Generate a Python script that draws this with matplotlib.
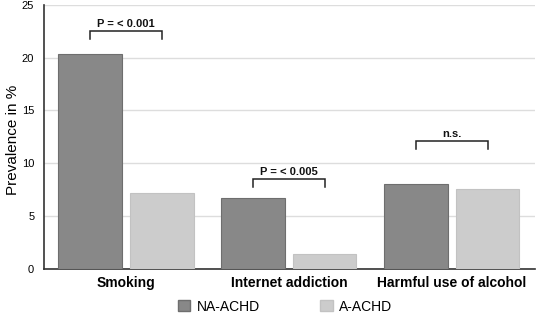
import matplotlib
matplotlib.use("Agg")
import matplotlib.pyplot as plt
from matplotlib.patches import Patch
import numpy as np

plt.rcParams['font.family'] = ['Liberation Sans', 'DejaVu Sans']

categories = ["Smoking", "Internet addiction", "Harmful use of alcohol"]
na_achd = [20.35, 6.7, 8.0]
a_achd = [7.2, 1.38, 7.57]
series_names = ["NA-ACHD", "A-ACHD"]
sig_labels = ["P = < 0.001", "P = < 0.005", "n.s."]
bracket_tops = [22.56, 8.47, 12.13]
yticks = [0, 5, 10, 15, 20, 25]

fig = plt.figure(figsize=(5.36, 3.16), dpi=100)
ax = fig.add_axes([0.082, 0.150, 0.916, 0.834])

x = np.arange(len(categories))
off = 0.22
w = 0.39
ax.bar(x - off, na_achd, w, color="#888888", edgecolor="#6e6e6e", linewidth=0.8, zorder=3)
ax.bar(x + off, a_achd, w, color="#cccccc", edgecolor="#c2c2c2", linewidth=0.8, zorder=3)

for xi, top, lab in zip(x, bracket_tops, sig_labels):
    x0, x1 = xi - off, xi + off
    ax.plot([x0, x0, x1, x1], [top - 0.75, top, top, top - 0.75],
            color="#222222", lw=1.1, zorder=4, solid_joinstyle='miter')
    ax.text(xi, top + 0.2, lab, ha='center', va='bottom', fontsize=8,
            fontweight='bold', color="#111111")

ax.set_xlim(-0.503, 2.51)
ax.set_ylim(0, 25)
ax.set_yticks(yticks)
ax.set_yticklabels([str(t) for t in yticks], fontsize=8)
ax.set_xticks(x)
ax.set_xticklabels(categories, fontsize=10, fontweight='bold')
ax.tick_params(axis='x', length=0, pad=5)
ax.tick_params(axis='y', length=0, pad=7)
ax.yaxis.grid(True, color="#dddddd", lw=1.0, zorder=0)
ax.set_axisbelow(True)
for s in ['top', 'right']:
    ax.spines[s].set_visible(False)
ax.spines['left'].set_color("#333333")
ax.spines['bottom'].set_color("#333333")
ax.spines['left'].set_linewidth(1.2)
ax.spines['bottom'].set_linewidth(1.2)
ax.set_ylabel("Prevalence in %", fontsize=11)
ax.yaxis.set_label_coords(-0.048, 0.49)

handles = [Patch(facecolor="#888888", edgecolor="#6e6e6e", label=series_names[0]),
           Patch(facecolor="#cccccc", edgecolor="#c2c2c2", label=series_names[1])]
fig.legend(handles=handles, loc='center', bbox_to_anchor=(0.532, 0.03), ncol=2,
           frameon=False, fontsize=10, handlelength=0.9, handleheight=0.9,
           columnspacing=4.3, handletextpad=0.5)

fig.savefig("out.png", dpi=100)
